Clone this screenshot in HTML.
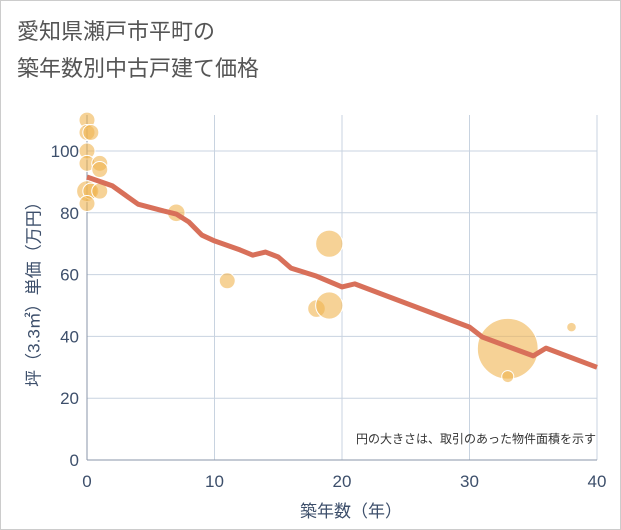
<!DOCTYPE html>
<html><head><meta charset="utf-8"><style>
body{margin:0;background:#fff;font-family:"Liberation Sans","Noto Sans CJK JP",sans-serif}
#wrap{position:relative;width:619px;height:528px;border:1px solid #ccc;overflow:hidden}
</style></head><body>
<div id="wrap">
<svg id="c" width="621" height="530" style="position:absolute;left:0;top:0"></svg>
</div>
<script>
const lineYears=[0,2,4,6,7,8,9,10,12,13,14,15,16,18,20,21,30,31,35,36,40];
const lineValues=[91.6,88.7,82.8,80.6,79.6,77,72.8,70.9,68,66.3,67.3,65.7,62.1,59.5,56,57,43,39.8,33.7,36.2,30];
const bubbleYears=[0,0,0.3,0,0,1,1,0,0.3,1,0,7,11,18,19,19,33,33,38];
const bubbleValues=[110,106,106,100,96,96,94,87,87,87,83,80,58,49,50,70,36,27,43];
const bubbleSizes=[1,1,1,1,1,1,1,1.3,1,1,1,1.1,1,1.1,1.7,1.7,3.8,0.75,0.6];
const xTicks=[0,10,20,30,40];
const yTicks=[0,20,40,60,80,100];
const NS="http://www.w3.org/2000/svg";
const svg=document.getElementById('c');
const X=v=>86+v*12.75, Y=v=>459-v*3.09;
function mk(t,a,txt){const e=document.createElementNS(NS,t);for(const k in a)e.setAttribute(k,a[k]);if(txt!=null)e.textContent=txt;svg.appendChild(e);return e;}
for(const t of xTicks){const g=mk('line',{x1:X(t),x2:X(t),y1:114,y2:459,stroke:'#c8d3e0'});


const l=mk('text',{x:X(t),y:486,'text-anchor':'middle','font-size':17,fill:'#3d4f6b'},t);

}
for(const t of yTicks){const g=mk('line',{x1:86,x2:596,y1:Y(t),y2:Y(t),stroke:'#c8d3e0'});


const l=mk('text',{x:78,y:Y(t)+6,'text-anchor':'end','font-size':17,fill:'#3d4f6b'},t);

}
const ax=mk('line',{x1:86,x2:86,y1:114,y2:459,stroke:'#8a96a8'});


const ax2=mk('line',{x1:86,x2:596,y1:459,y2:459,stroke:'#8a96a8'});


bubbleYears.forEach((yr,i)=>{const c=mk('circle',{cx:X(yr),cy:Y(bubbleValues[i]),r:8*bubbleSizes[i],fill:'rgba(240,180,80,0.6)',stroke:'#fff','stroke-width':1});

});
const p=mk('polyline',{points:lineYears.map((y,i)=>X(y)+','+Y(lineValues[i])).join(' '),fill:'none',stroke:'#d8705a','stroke-width':5,'stroke-linejoin':'round'});


</script>
<div style="position:absolute;left:17px;top:13px;font-size:22px;line-height:37px;color:#555">愛知県瀬戸市平町の<br>築年数別中古戸建て価格</div>
<div style="position:absolute;left:344px;top:430px;width:252px;text-align:right;font-size:12px;color:#333">円の大きさは、取引のあった物件面積を示す</div>
<div style="position:absolute;left:300px;top:497px;font-size:17px;color:#3d4f6b">築年数（年）</div>
<div style="position:absolute;left:32px;top:290px;transform:translate(-50%,-50%) rotate(-90deg);white-space:nowrap;font-size:17px;color:#3d4f6b">坪（3.3㎡）単価（万円）</div>
</body></html>
